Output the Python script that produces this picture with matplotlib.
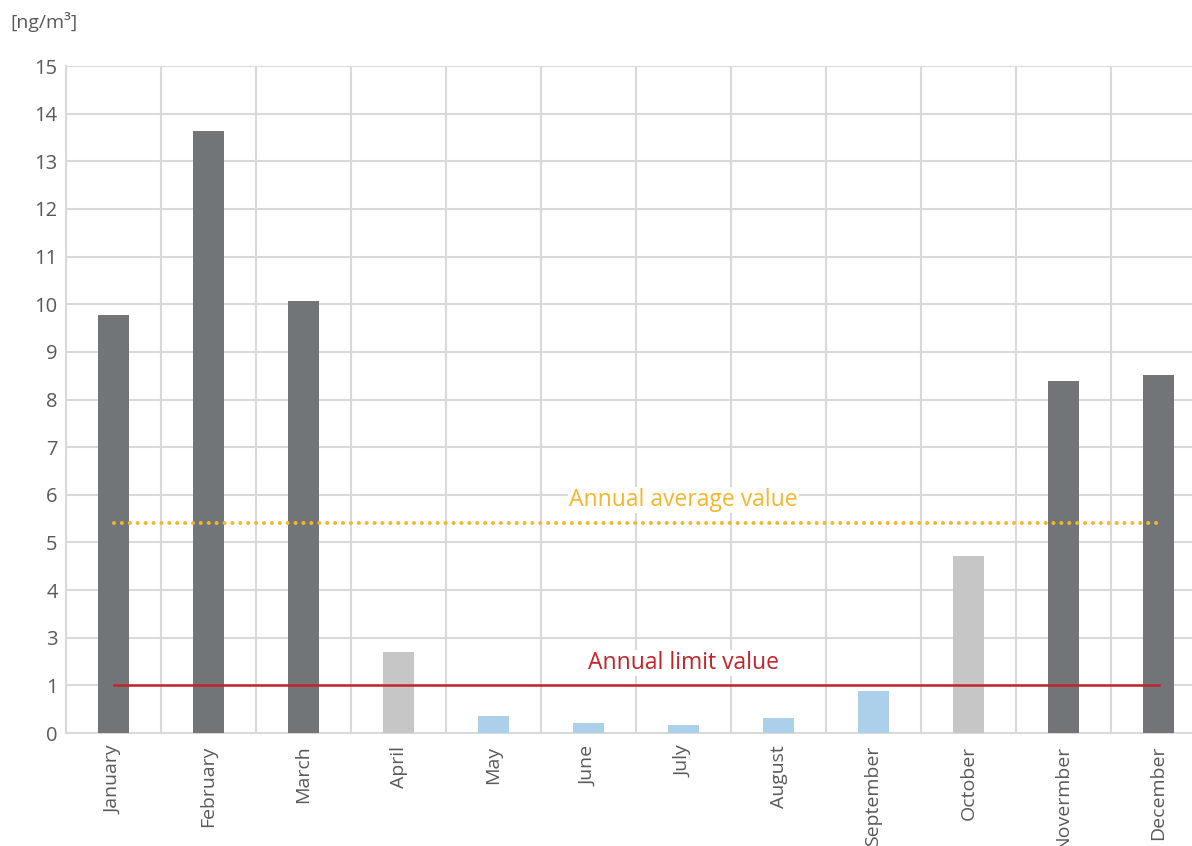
import numpy as np
import matplotlib
matplotlib.use("Agg")
import matplotlib.pyplot as plt

months = ["January", "February", "March", "April", "May", "June", "July",
          "August", "September", "October", "Novermber", "December"]
values = [9.77, 13.64, 10.07, 2.4, 0.36, 0.21, 0.17, 0.31, 0.88, 4.72, 8.39, 8.51]
bar_colors = ["#727578", "#727578", "#727578", "#c6c6c6", "#acd0ea", "#acd0ea",
              "#acd0ea", "#acd0ea", "#acd0ea", "#c6c6c6", "#727578", "#727578"]
ytick_values = [0, 1, 3, 4, 5, 6, 7, 8, 9, 10, 11, 12, 13, 14, 15]
annual_average = 5.41
annual_limit = 1.0


def forward(v):
    v = np.asarray(v, dtype=float)
    return np.where(v <= 1, v, np.where(v <= 3, 1 + (v - 1) / 2, v - 1))


def inverse(p):
    p = np.asarray(p, dtype=float)
    return np.where(p <= 1, p, np.where(p <= 2, 1 + (p - 1) * 2, p + 1))


plt.rcParams['font.family'] = ['Open Sans', 'DejaVu Sans']

fig = plt.figure(figsize=(11.92, 8.46), dpi=100)
ax = fig.add_axes([66 / 1192, 113 / 846, 1140 / 1192, 667 / 846])

x = np.arange(len(months))
ax.bar(x, values, width=0.316, color=bar_colors, zorder=3)

ax.set_yscale('function', functions=(forward, inverse))
ax.set_ylim(0, 15)
ax.set_xlim(-0.5, len(months) - 0.5)
ax.set_yticks(ytick_values)
ax.set_yticklabels([str(v) for v in ytick_values])
ax.set_xticks(x)
ax.set_xticklabels(months, rotation=90)
ax.set_xticks(np.arange(len(months) + 1) - 0.5, minor=True)

grid_c = "#d9d9d9"
ax.grid(axis='y', which='major', color=grid_c, lw=1.5, zorder=0)
ax.grid(axis='x', which='minor', color=grid_c, lw=1.5, zorder=0)
ax.grid(axis='x', which='major', visible=False)
for s in ['top', 'right']:
    ax.spines[s].set_visible(False)
for s in ['left', 'bottom']:
    ax.spines[s].set_color(grid_c)
    ax.spines[s].set_linewidth(1.5)
ax.tick_params(which='both', length=0)
ax.tick_params(axis='y', labelsize=14.5, labelcolor="#595959", pad=6)
ax.tick_params(axis='x', labelsize=14, labelcolor="#595959", pad=9)

ax.plot([x[0], x[-1]], [annual_average] * 2, color="#f7b52a", lw=2.9,
        linestyle=(0, (0.01, 1.95)), dash_capstyle='round', zorder=4)
ax.plot([x[0], x[-1]], [annual_limit] * 2, color="#c3242b", lw=1.8, zorder=4)

ax.text(6.0, 5.89, "Annual average value", color="#f7b52a", fontsize=16.5,
        ha='center', va='center', zorder=5,
        bbox=dict(facecolor='white', edgecolor='none', pad=1))
ax.text(6.0, 1.94, "Annual limit value", color="#c3242b", fontsize=16.5,
        ha='center', va='center', zorder=5,
        bbox=dict(facecolor='white', edgecolor='none', pad=1))

fig.text(10 / 1192, 1 - 22 / 846, "[ng/m³]", color="#595959", fontsize=14,
         ha='left', va='center')

fig.savefig("out.png", dpi=100, facecolor='white')
